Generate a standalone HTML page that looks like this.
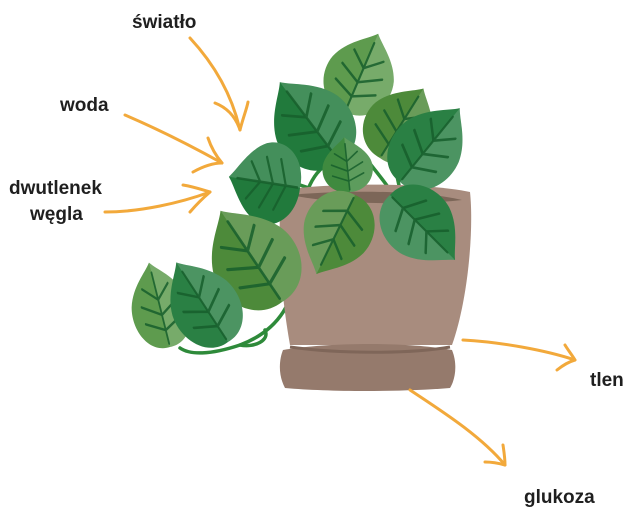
<!DOCTYPE html>
<html><head><meta charset="utf-8"><style>
html,body{margin:0;padding:0;background:#fff;width:640px;height:529px;overflow:hidden}
svg{display:block}
text{font-family:"Liberation Sans",sans-serif;font-weight:bold;font-size:19px;fill:#1f1f1f}
</style></head><body>
<svg width="640" height="529" viewBox="0 0 640 529" xmlns="http://www.w3.org/2000/svg">
<defs>
<g id="leaf">
<path d="M0,0 C-35,2 -56,-28 -46,-55 C-36,-78 -10,-90 0,-100 C10,-90 36,-78 46,-55 C56,-28 35,2 0,0 Z" fill="currentColor"/>
<path d="M0,0 C35,2 56,-28 46,-55 C36,-78 10,-90 0,-100 Z" fill="#fff" opacity="0.16"/>
<g stroke="#175f2c" stroke-width="3" fill="none" stroke-linecap="round" opacity="0.85">
<path d="M0,-4 L0,-88"/>
<path d="M0,-20 L-30,-32 M0,-38 L-30,-52 M0,-56 L-22,-72 M0,-20 L30,-32 M0,-38 L30,-52 M0,-56 L22,-72"/>
</g>
</g>
</defs>

<g stroke="#2e8a3a" stroke-width="3.5" fill="none" stroke-linecap="round">
<path d="M350,112 C340,140 330,160 320,170 C300,190 300,230 298,260 C296,300 280,330 240,345 C210,355 190,355 180,348"/>
<path d="M300,185 C315,190 330,195 345,200"/>
<path d="M298,260 C310,270 305,295 290,300"/>
<path d="M240,345 C255,348 270,340 265,330"/>
<path d="M360,150 C370,165 380,175 390,190"/>
<path d="M395,160 C395,170 398,180 400,190"/>
</g>

<path d="M282,190 C330,183 420,182 470,192 C474,230 468,300 452,345 L290,345 C282,300 276,240 282,190 Z" fill="#a88c7e"/>
<path d="M290,195 C340,190 420,190 462,200 C420,205 340,205 290,195 Z" fill="#7c6658"/>
<path d="M283,350 C330,342 410,342 452,350 C458,365 455,380 450,388 C400,392 330,392 285,388 C278,375 279,360 283,350 Z" fill="#957a6c"/>
<path d="M290,347 C340,354 410,354 450,347" stroke="#7f6659" stroke-width="3" fill="none"/>

<use href="#leaf" color="#5e9b4e" transform="translate(345,112) rotate(23) scale(0.72,0.85)"/>
<use href="#leaf" color="#217a3c" transform="translate(340,162) rotate(-37) scale(0.82,1.0)"/>
<use href="#leaf" color="#4d8a3a" transform="translate(380,158) rotate(32) scale(0.72,0.82)"/>
<use href="#leaf" color="#2a8044" transform="translate(400,182) rotate(39) scale(0.72,0.95)"/>
<use href="#leaf" color="#3f8a3f" transform="translate(350,192) rotate(-6) scale(0.52,0.55)"/>
<use href="#leaf" color="#217a3c" transform="translate(300,188) rotate(-81) scale(0.85,0.72)"/>
<use href="#leaf" color="#4d8a3a" transform="translate(282,302) rotate(-34) scale(0.9,1.1)"/>
<use href="#leaf" color="#5e9b4e" transform="translate(170,347) rotate(-14) scale(0.6,0.87)"/>
<use href="#leaf" color="#2a8044" transform="translate(228,342) rotate(-33) scale(0.7,0.95)"/>
<use href="#leaf" color="#4d8a3a" transform="translate(355,195) rotate(206) scale(0.72,0.88)"/>
<use href="#leaf" color="#2a8044" transform="translate(390,195) rotate(135) scale(0.72,0.92)"/>

<g stroke="#f2a93b" stroke-width="3" fill="none" stroke-linecap="round" stroke-linejoin="round">
<path d="M190,38 C215,65 232,95 240,130"/>
<path d="M215,103 C228,108 236,118 240,130 C243,118 247,108 248,102"/>
<path d="M125,115 C160,130 195,148 222,163"/>
<path d="M208,138 C212,150 217,157 222,163 C212,163 202,167 193,172"/>
<path d="M105,212 C140,212 180,203 210,192"/>
<path d="M183,185 C195,187 203,190 210,192 C203,198 196,205 190,212"/>
<path d="M463,340 C500,342 545,350 575,360"/>
<path d="M565,345 C568,350 572,355 575,360 C568,362 562,366 557,370"/>
<path d="M410,390 C440,410 480,435 505,465"/>
<path d="M503,445 C504,452 505,458 505,465 C498,463 492,462 485,462"/>
</g>

<text x="132" y="28">światło</text>
<text x="60" y="111">woda</text>
<text x="9" y="194">dwutlenek</text>
<text x="30" y="220">węgla</text>
<text x="590" y="386">tlen</text>
<text x="524" y="503">glukoza</text>
</svg>
</body></html>
